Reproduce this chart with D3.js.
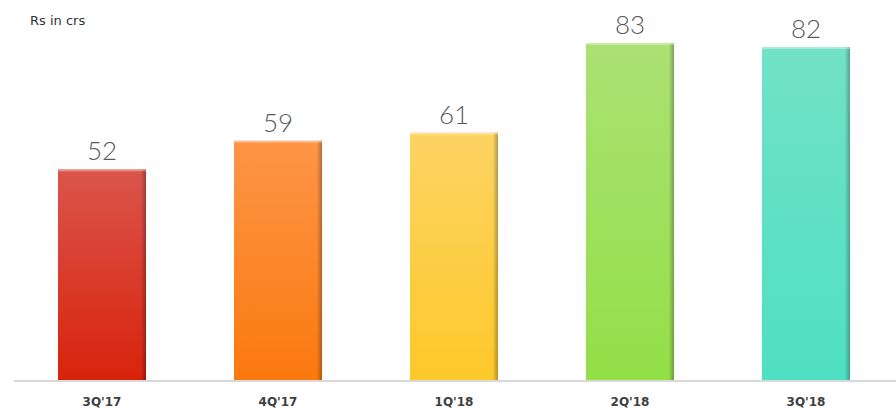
<!DOCTYPE html>
<html>
<head>
<meta charset="utf-8">
<script src="https://cdn.jsdelivr.net/npm/d3@7"></script>
<style>
  body { margin: 0; background: #fff; }
  svg { display: block; font-family: "Lato", "Noto Sans", sans-serif; }
</style>
</head>
<body>
<div id="chart"></div>
<script>
// Quarterly values, Rs in crs
const quarters = ["3Q'17", "4Q'17", "1Q'18", "2Q'18", "3Q'18"];
const values = [52, 59, 61, 83, 82];
const topColors = ["#da554c", "#fd9548", "#fdd363", "#abe174", "#72e1c7"];
const bottomColors = ["#d8230b", "#fb790e", "#fcc929", "#93df47", "#4ee0c1"];

const width = 896;
const height = 413;
const baseline = 381;

const svg = d3.select("#chart")
    .append("svg")
    .attr("width", width)
    .attr("height", height);

const defs = svg.append("defs");

quarters.forEach((q, i) => {
    const grad = defs.append("linearGradient")
        .attr("id", "grad" + i)
        .attr("x1", 0).attr("y1", 0)
        .attr("x2", 0).attr("y2", 1);
    grad.append("stop").attr("offset", "0%").attr("stop-color", topColors[i]);
    grad.append("stop").attr("offset", "100%").attr("stop-color", bottomColors[i]);
});

// darker right edge shading
const edge = defs.append("linearGradient")
    .attr("id", "edge")
    .attr("x1", 0).attr("y1", 0)
    .attr("x2", 1).attr("y2", 0);
edge.append("stop").attr("offset", "0%").attr("stop-color", "#000").attr("stop-opacity", 0);
edge.append("stop").attr("offset", "94%").attr("stop-color", "#000").attr("stop-opacity", 0);
edge.append("stop").attr("offset", "100%").attr("stop-color", "#000").attr("stop-opacity", 0.28);

const x = d3.scaleBand()
    .domain(quarters)
    .range([14, 894])
    .paddingInner(0.5)
    .paddingOuter(0.25);

const y = d3.scaleLinear()
    .domain([0, 83])
    .range([baseline, 43]);

const bars = svg.append("g");

bars.selectAll("rect.bar")
    .data(quarters)
    .join("rect")
    .attr("class", "bar")
    .attr("x", d => x(d))
    .attr("y", (d, i) => y(values[i]))
    .attr("width", x.bandwidth())
    .attr("height", (d, i) => baseline - y(values[i]))
    .attr("fill", (d, i) => `url(#grad${i})`);

bars.selectAll("rect.edge")
    .data(quarters)
    .join("rect")
    .attr("class", "edge")
    .attr("x", d => x(d))
    .attr("y", (d, i) => y(values[i]))
    .attr("width", x.bandwidth())
    .attr("height", (d, i) => baseline - y(values[i]))
    .attr("fill", "url(#edge)");

// light top highlight
bars.selectAll("rect.hl")
    .data(quarters)
    .join("rect")
    .attr("class", "hl")
    .attr("x", d => x(d))
    .attr("y", (d, i) => y(values[i]))
    .attr("width", x.bandwidth())
    .attr("height", 2)
    .attr("fill", "#fff")
    .attr("opacity", 0.35);

// axis line
const xAxis = d3.axisBottom(x).tickSize(0).tickPadding(16);
const gx = svg.append("g")
    .attr("transform", `translate(0,${baseline})`)
    .call(xAxis);

gx.select(".domain")
    .attr("d", `M14,0H896`)
    .attr("stroke", "#d9d9d9")
    .attr("stroke-width", 2);

gx.selectAll("text")
    .style("font-family", "'DejaVu Sans', sans-serif")
    .style("font-size", "12px")
    .style("font-weight", "700")
    .style("fill", "#404040");

svg.append("g")
    .selectAll("text")
    .data(quarters)
    .join("text")
    .attr("x", d => x(d) + x.bandwidth() / 2)
    .attr("y", (d, i) => y(values[i]) - 9)
    .attr("text-anchor", "middle")
    .style("font-size", "26px")
    .style("font-weight", "300")
    .style("fill", "#595959")
    .text((d, i) => values[i]);

svg.append("text")
    .attr("x", 30)
    .attr("y", 25)
    .style("font-family", "'DejaVu Sans', sans-serif")
    .style("font-size", "13px")
    .style("fill", "#333")
    .text("Rs in crs");
</script>
</body>
</html>
